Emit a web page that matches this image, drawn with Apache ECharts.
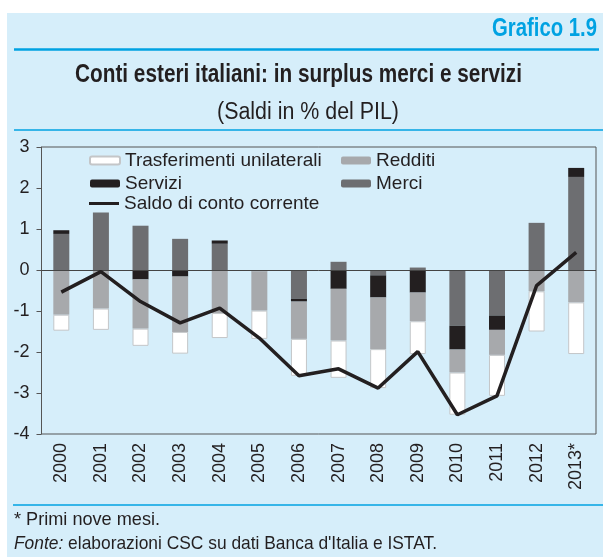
<!DOCTYPE html>
<html>
<head>
<meta charset="utf-8">
<script src="https://cdn.jsdelivr.net/npm/echarts@6/dist/echarts.min.js"></script>
<style>
  html, body { margin: 0; padding: 0; background: #fff; }
  #chart { width: 603px; height: 557px; }
</style>
</head>
<body>
<div id="chart"></div>
<script>
const years = ["2000", "2001", "2002", "2003", "2004", "2005", "2006", "2007", "2008", "2009", "2010", "2011", "2012", "2013*"];
const merci = [0.88, 1.40, 1.08, 0.76, 0.64, -0.03, -0.70, 0.20, -0.13, 0.06, -1.36, -1.11, 1.15, 2.27];
const servizi = [0.09, 0, -0.23, -0.16, 0.08, 0, -0.07, -0.46, -0.54, -0.55, -0.58, -0.35, 0, 0.22];
const redditi = [-1.09, -0.94, -1.20, -1.35, -1.05, -0.96, -0.91, -1.26, -1.26, -0.70, -0.56, -0.61, -0.52, -0.79];
const trasferimenti = [-0.39, -0.52, -0.42, -0.53, -0.61, -0.69, -0.90, -0.91, -0.95, -0.80, -1.03, -1.00, -0.98, -1.26];
const saldo = [-0.54, -0.04, -0.77, -1.29, -0.93, -1.66, -2.58, -2.41, -2.88, -1.99, -3.53, -3.07, -0.38, 0.43];
const yTicks = [-4, -3, -2, -1, 0, 1, 2, 3];

const BG = "#d6eefa";
const BLUE = "#00a2e2";
const INK = "#231f20";
const plain = "'Liberation Sans', Arial, sans-serif";

// testo "condensato": Liberation Sans schiacciata in orizzontale fino alla larghezza voluta
const measureCtx = document.createElement("canvas").getContext("2d");
function textWidth(text, font) {
  measureCtx.font = font;
  return measureCtx.measureText(text).width;
}
function narrowText(text, font, x, y, width, align, color) {
  return {
    type: "text", x: x, y: y, scaleX: width / textWidth(text, font),
    style: { x: 0, y: 0, text: text, font: font, fill: color || INK,
      textAlign: align || "left", textVerticalAlign: "bottom" }
  };
}

const fonteFont = "italic 19px " + plain;
const restFont = "19px " + plain;
const fonteText = "Fonte:";
const restText = " elaborazioni CSC su dati Banca d'Italia e ISTAT.";
const fonteScale = 423 / (textWidth(fonteText, fonteFont) + textWidth(restText, restFont));

const chart = echarts.init(document.getElementById("chart"));

const barBase = {
  type: "bar",
  stack: "saldi",
  barWidth: 16,
};

const legendText = { fontFamily: plain, fontSize: 19, color: INK, lineHeight: 18 };

const option = {
  animation: false,
  backgroundColor: "#fff",
  graphic: [
    // pannello azzurro
    { type: "rect", z: -10, shape: { x: 7, y: 13, width: 596, height: 544 }, style: { fill: BG } },
    { type: "line", shape: { x1: 14, y1: 49.5, x2: 599, y2: 49.5 }, style: { stroke: BLUE, lineWidth: 2.5 } },
    { type: "line", shape: { x1: 14, y1: 130, x2: 603, y2: 130 }, style: { stroke: BLUE, lineWidth: 1.5 } },
    { type: "line", shape: { x1: 13, y1: 505, x2: 603, y2: 505 }, style: { stroke: BLUE, lineWidth: 1.5 } },
    narrowText("Grafico 1.9", "bold 25px " + plain, 597, 42, 105, "right", BLUE),
    narrowText("Conti esteri italiani: in surplus merci e servizi", "bold 25px " + plain, 75, 88, 447),
    narrowText("(Saldi in % del PIL)", "23px " + plain, 217, 124, 182),
    narrowText("* Primi nove mesi.", "19px " + plain, 14, 529, 146),
    {
      type: "text", x: 14, y: 553, scaleX: fonteScale,
      style: { x: 0, y: 0, text: "{i|" + fonteText + "}{r|" + restText + "}", textVerticalAlign: "bottom", fill: INK,
        rich: { i: { font: fonteFont, fill: INK }, r: { font: restFont, fill: INK } } }
    }
  ],
  grid: {
    left: 41.5, right: 7, top: 147, bottom: 123,
    show: true, borderColor: "#555", borderWidth: 1, backgroundColor: "transparent"
  },
  legend: [
    {
      orient: "vertical", left: 89, top: 151, padding: 0, itemWidth: 30, itemHeight: 8, itemGap: 4,
      textStyle: legendText, data: ["Trasferimenti unilaterali", "Servizi"]
    },
    {
      orient: "vertical", left: 89, top: 194, padding: 0, itemWidth: 30, itemHeight: 3,
      textStyle: legendText, data: [{ name: "Saldo di conto corrente", icon: "rect" }]
    },
    {
      orient: "vertical", left: 341, top: 151, padding: 0, itemWidth: 30, itemHeight: 8, itemGap: 4,
      textStyle: legendText, data: ["Redditi", "Merci"]
    }
  ],
  xAxis: {
    type: "category",
    data: years,
    axisLine: { show: false },
    axisTick: { show: false },
    axisLabel: { rotate: 90, fontFamily: plain, fontSize: 18, color: INK, margin: 9, interval: 0 }
  },
  yAxis: {
    type: "value",
    min: -4, max: 3, interval: 1,
    axisLine: { show: true, lineStyle: { color: "#555" } },
    axisTick: { show: true, length: 5, lineStyle: { color: "#555" } },
    splitLine: { show: false },
    axisLabel: { fontFamily: plain, fontSize: 18, color: INK, margin: 12,
      formatter: v => (yTicks.includes(v) ? String(v) : "") }
  },
  series: [
    Object.assign({}, barBase, { name: "Merci", data: merci, itemStyle: { color: "#6d6e71" },
      markLine: { silent: true, symbol: "none", label: { show: false },
        lineStyle: { color: "#444", width: 1, type: "solid" }, data: [{ yAxis: 0 }] } }),
    Object.assign({}, barBase, { name: "Servizi", data: servizi, itemStyle: { color: INK } }),
    Object.assign({}, barBase, { name: "Redditi", data: redditi, itemStyle: { color: "#a7a9ac" } }),
    Object.assign({}, barBase, { name: "Trasferimenti unilaterali", data: trasferimenti,
      itemStyle: { color: "#ffffff", borderColor: "#c4c6c8", borderWidth: 1 } }),
    {
      name: "Saldo di conto corrente", type: "line", data: saldo, symbol: "none",
      lineStyle: { color: INK, width: 3.5 }, itemStyle: { color: INK }, z: 5
    }
  ]
};

chart.setOption(option);
</script>
</body>
</html>
